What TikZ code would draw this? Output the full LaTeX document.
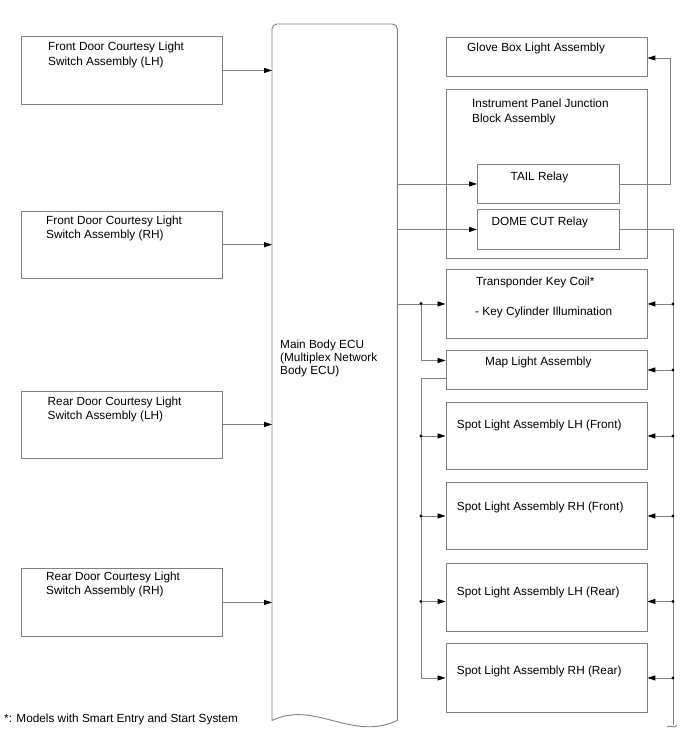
\documentclass[tikz,border=0pt]{standalone}
\usepackage{fontspec}
\setmainfont{Liberation Sans}
\usetikzlibrary{arrows.meta,calc}
\newcommand\mkbox[5]{\node[box, minimum width={(#4-#2)*1pt}, minimum height={(#5-#3)*1pt}] (#1) at (#2,#3) {};}
\begin{document}
\begin{tikzpicture}[x=1pt,y=-1pt,
 line/.style={draw=black!50, line width=0.9pt},
 arr/.style={line, -{Triangle[length=8pt,width=5pt,color=black]}},
 box/.style={draw=black!50, line width=0.9pt, rectangle, inner sep=0, anchor=north west},
 lbl/.style={anchor=base west, inner sep=0, align=left, font=\fontsize{11.8}{14.3}\selectfont},
 dot/.style={circle, fill=black, inner sep=0, minimum size=3.2pt}]
\useasboundingbox (0,0) rectangle (688,755);

% left boxes
\mkbox{fl1}{20.5}{36}{221.5}{104}
\mkbox{fl2}{20.5}{210.5}{221.5}{278}
\mkbox{rl1}{20.5}{390.5}{221.5}{457.5}
\mkbox{rl2}{20.5}{568}{221.5}{636}
% multi-line labels: base anchor = baseline of the last line
\node[lbl] (tfl1) at (48,65) {Front Door Courtesy Light\\Switch Assembly (LH)};
\node[lbl] (tfl2) at (46,238.3) {Front Door Courtesy Light\\Switch Assembly (RH)};
\node[lbl] (trl1) at (47.5,419.3) {Rear Door Courtesy Light\\Switch Assembly (LH)};
\node[lbl] (trl2) at (46,594.3) {Rear Door Courtesy Light\\Switch Assembly (RH)};

% ECU
\node[inner sep=0, minimum width=125pt, minimum height=696pt, anchor=north west] (ecu) at (272,24) {};
\draw[line] (ecu.south east) [rounded corners=5pt] -- (ecu.north east) -- (ecu.north west) [sharp corners] -- (ecu.south west)
  .. controls (315,700) and (352,742) .. (ecu.south east);
\node[lbl, font=\fontsize{11.8}{13}\selectfont] (tecu) at (280,374) {Main Body ECU\\(Multiplex Network\\Body ECU)};

% right boxes
\mkbox{glove}{445.5}{37}{646.5}{76}
\mkbox{ipjb}{445.5}{89}{646.5}{258}
\mkbox{tail}{477}{164}{619}{203}
\mkbox{dome}{477}{209}{619}{249}
\mkbox{trans}{445.5}{269}{646.5}{338}
\mkbox{map}{445.5}{350}{646.5}{389}
\mkbox{slf}{445.5}{402}{646.5}{469}
\mkbox{srf}{445.5}{482}{646.5}{549}
\mkbox{slr}{445.5}{563}{646.5}{631}
\mkbox{srr}{445.5}{643}{646.5}{712}
\node[lbl] (tglove) at (467,51.5) {Glove Box Light Assembly};
\node[lbl] (tipjb) at (472,122) {Instrument Panel Junction\\Block Assembly};
\node[lbl] (ttail) at (510.5,180) {TAIL Relay};
\node[lbl] (tdome) at (491.5,225) {DOME CUT Relay};
\node[lbl] (ttrans1) at (476,285) {Transponder Key Coil*};
\node[lbl] (ttrans2) at (475,315.7) {- Key Cylinder Illumination};
\node[lbl] (tmap) at (485,365) {Map Light Assembly};
\node[lbl] (tslf) at (456.7,428.3) {Spot Light Assembly LH (Front)};
\node[lbl] (tsrf) at (456.7,510.7) {Spot Light Assembly RH (Front)};
\node[lbl] (tslr) at (456.7,595.7) {Spot Light Assembly LH (Rear)};
\node[lbl] (tsrr) at (456.7,674) {Spot Light Assembly RH (Rear)};

\node[lbl] (foot) at (4,722) {*: Models with Smart Entry and Start System};

% switches -> ECU
\draw[arr] (fl1.east) -- (fl1.east -| ecu.west);
\draw[arr] (fl2.east) -- (fl2.east -| ecu.west);
\draw[arr] (rl1.east) -- (rl1.east -| ecu.west);
\draw[arr] (rl2.east) -- (rl2.east -| ecu.west);

% ECU -> relays / transponder
\draw[arr] (tail.west -| ecu.east) -- (tail.west);
\draw[arr] (dome.west -| ecu.east) -- (dome.west);
\draw[arr] (trans.west -| ecu.east) -- (trans.west);

% left bus
\coordinate (jL) at (421,303.5);
\draw[arr] (jL) |- ($(map.west)+(0,-9.5)$);
\coordinate (bL) at (jL |- srr.west);
\draw[arr] ($(map.west)+(0,8.5)$) -| (bL) -- (srr.west);
\draw[arr] (jL |- slf.west) -- (slf.west);
\draw[arr] (jL |- srf.west) -- (srf.west);
\draw[arr] ($(jL |- slr.west)+(0,4)$) -- ($(slr.west)+(0,4)$);
\node[dot] (d1) at (jL) {};
\node[dot] (d2) at (jL |- slf.west) {};
\node[dot] (d3) at (jL |- srf.west) {};
\node[dot] (d4) at ($(jL |- slr.west)+(0,4)$) {};

% TAIL -> glove box
\coordinate (gx) at (670,58);
\draw[arr] (tail.east) -| (gx) -- (gx -| glove.east);

% right bus from DOME CUT relay
\coordinate (rbEnd) at (673,725);
\draw[line] (dome.east) -| (rbEnd);
\draw[line] ($(rbEnd)+(-6,2)$) .. controls ($(rbEnd)+(-3,-0.5)$) and ($(rbEnd)+(0,4)$) .. ($(rbEnd)+(4,0.5)$);
\draw[arr] (rbEnd |- trans.east) -- (trans.east);
\draw[arr] (rbEnd |- map.east) -- (map.east);
\draw[arr] (rbEnd |- slf.east) -- (slf.east);
\draw[arr] (rbEnd |- srf.east) -- (srf.east);
\draw[arr] ($(rbEnd |- slr.east)+(0,4)$) -- ($(slr.east)+(0,4)$);
\draw[arr] (rbEnd |- srr.east) -- (srr.east);
\node[dot] (e1) at (rbEnd |- trans.east) {};
\node[dot] (e2) at (rbEnd |- map.east) {};
\node[dot] (e3) at (rbEnd |- slf.east) {};
\node[dot] (e4) at (rbEnd |- srf.east) {};
\node[dot] (e5) at ($(rbEnd |- slr.east)+(0,4)$) {};
\node[dot] (e6) at (rbEnd |- srr.east) {};
\end{tikzpicture}
\end{document}
